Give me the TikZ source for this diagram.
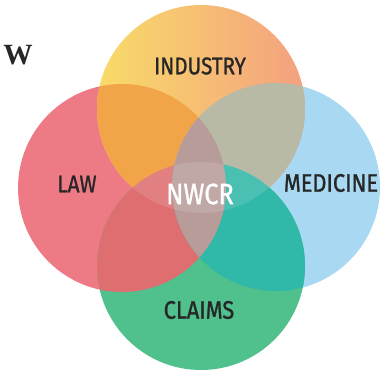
\documentclass[tikz,border=0pt]{standalone}
\usepackage{fontspec}
\newfontfamily\vennfont{Fira Sans}[FakeBold=1.2]
\newfontfamily\wfont{Liberation Serif}
\usetikzlibrary{positioning}

\definecolor{indyellow}{HTML}{F8DC68}
\definecolor{indsalmon}{HTML}{F4A080}
\definecolor{lawpink}{HTML}{EE7A86}
\definecolor{medblue}{HTML}{A8D8F2}
\definecolor{claimgreen}{HTML}{50C08C}
\definecolor{lawind}{HTML}{F2A448}
\definecolor{medind}{HTML}{B8BAA6}
\definecolor{lawclaim}{HTML}{DE6E70}
\definecolor{medclaim}{HTML}{30B8A8}
\definecolor{centremauve}{HTML}{B89C9A}
\definecolor{labelgray}{HTML}{262626}

\newcommand{\lbl}[2]{{\fontsize{#1}{#1}\selectfont\scalebox{0.86}[1]{#2}}}

\begin{document}
\begin{tikzpicture}[
    x=0.75pt, y=-0.75pt,
    every node/.style={font=\vennfont, text=labelgray, inner sep=0pt},
    centre/.style={text=white},
    ]
\useasboundingbox (0,0) rectangle (382,375);
\def\rad{78pt}

% Centres des cercles
\coordinate (top) at (201,109);
\coordinate (bottom) at (201,266);
\coordinate (left) at (122,188);
\coordinate (right) at (276,187);

% Cercles
\fill[lawpink] (left) circle[radius=\rad];
\fill[medblue] (right) circle[radius=\rad];
\shade[left color=indyellow, right color=indsalmon] (top) circle[radius=\rad];
\fill[claimgreen] (bottom) circle[radius=\rad];

% Intersections
\begin{scope}
  \clip (top) circle[radius=\rad];
  \fill[lawind] (left) circle[radius=\rad];
  \fill[medind] (right) circle[radius=\rad];
\end{scope}
\begin{scope}
  \clip (bottom) circle[radius=\rad];
  \fill[lawclaim] (left) circle[radius=\rad];
  \fill[medclaim] (right) circle[radius=\rad];
\end{scope}
\begin{scope}
  \clip (left) circle[radius=\rad];
  \fill[centremauve] (right) circle[radius=\rad];
\end{scope}
\begin{scope}
  \clip (top) circle[radius=\rad];
  \fill[white, opacity=0.12] (bottom) circle[radius=\rad];
\end{scope}

% Textes
\node (w) at (18,55) {\wfont\bfseries\fontsize{22}{22}\selectfont W};
\node (industry) at (200,66) {\lbl{18}{INDUSTRY}};
\node (law) at (77,184) {\lbl{18}{LAW}};
\node (medicine) at (331,183) {\lbl{19}{MEDICINE}};
\node (claims) at (199,310) {\lbl{19}{CLAIMS}};
\node[centre] (nwcr) at (200,194) {\lbl{22}{NWCR}};

\end{tikzpicture}
\end{document}
